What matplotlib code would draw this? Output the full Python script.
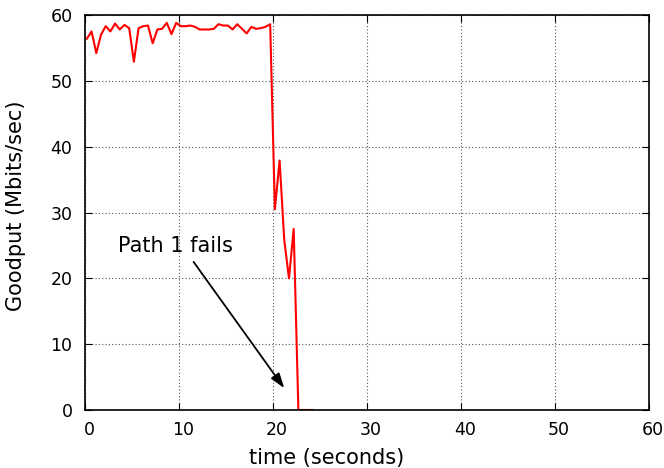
import numpy as np
import matplotlib
matplotlib.use("Agg")
import matplotlib.pyplot as plt
from matplotlib.transforms import ScaledTranslation

time_s = [0.2, 0.7, 1.2, 1.7, 2.2, 2.7, 3.2, 3.7, 4.2, 4.7,
          5.2, 5.7, 6.2, 6.7, 7.2, 7.7, 8.2, 8.7, 9.2, 9.7,
          10.2, 10.7, 11.2, 11.7, 12.2, 12.7, 13.2, 13.7, 14.2, 14.7,
          15.2, 15.7, 16.2, 16.7, 17.2, 17.7, 18.2, 18.7, 19.2, 19.7,
          20.2, 20.7, 21.2, 21.7, 22.2, 22.7, 23.2, 23.7, 24.2]
goodput = [56.4, 57.5, 54.2, 57.0, 58.3, 57.5, 58.7, 57.8, 58.5, 58.0,
           52.9, 58.0, 58.3, 58.4, 55.7, 57.8, 57.9, 58.8, 57.1, 58.8,
           58.3, 58.3, 58.4, 58.2, 57.8, 57.8, 57.8, 57.9, 58.6, 58.4,
           58.4, 57.8, 58.6, 57.9, 57.2, 58.2, 57.9, 58.0, 58.2, 58.6,
           30.5, 37.9, 25.8, 20.0, 27.5, 0.0, 0.0, 0.0, 0.0]

x_ticks = [0, 10, 20, 30, 40, 50, 60]
y_ticks = [0, 10, 20, 30, 40, 50, 60]

fig = plt.figure(figsize=(6.64, 4.68), dpi=100)
ax = fig.add_axes([85/664, 1 - 410/468, (649 - 85)/664, (410 - 15)/468])

ax.plot(time_s, goodput, color="#ff0000", linewidth=1.5, zorder=2)

ax.set_xlim(0, 60)
ax.set_ylim(0, 60)
ax.set_xticks(x_ticks)
ax.set_yticks(y_ticks)
ax.tick_params(direction="in", top=True, right=True, length=5, labelsize=12.5,
               colors="black")
ax.tick_params(axis="x", pad=8)
ax.tick_params(axis="y", pad=9)
offset = ScaledTranslation(4/100, 0, fig.dpi_scale_trans)
for lbl in ax.get_xticklabels():
    lbl.set_transform(lbl.get_transform() + offset)
ax.grid(True, linestyle=(0, (1, 2)), color="#555555", linewidth=0.8)
for s in ax.spines.values():
    s.set_linewidth(1.2)

fig.text(326.5/664, 1 - 458/468, "time (seconds)", fontsize=15,
         ha="center", va="center")
fig.text(16/664, 1 - 205.5/468, "Goodput (Mbits/sec)", fontsize=15,
         ha="center", va="center", rotation=90)

ax.annotate("", xy=(21.2, 3.3), xytext=(11.55, 22.5),
            arrowprops=dict(arrowstyle="-|>,head_length=0.9,head_width=0.3",
                            color="black", lw=1.3,
                            mutation_scale=10, shrinkA=0, shrinkB=0))
ax.text(3.5, 24.9, "Path 1 fails", fontsize=15, ha="left", va="center")

fig.savefig("out.png", dpi=100)
